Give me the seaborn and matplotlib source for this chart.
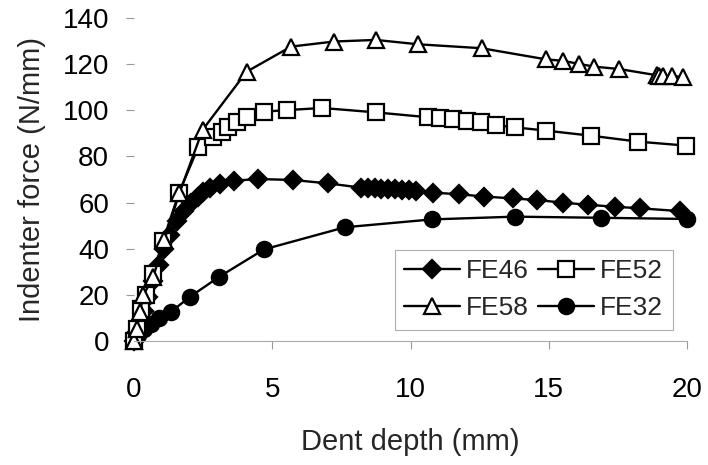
import matplotlib
matplotlib.use("Agg")
import matplotlib.pyplot as plt
import seaborn as sns
import pandas as pd

# ---- data ----
fe46_x = [0, 0.1, 0.2, 0.35, 0.5, 0.7, 0.9, 1.1, 1.3, 1.54, 1.8, 2.05, 2.3, 2.5, 2.75,
          3.11, 3.6, 4.5, 5.74, 7.03, 8.2, 8.45, 8.7, 8.95, 9.2, 9.45, 9.7, 9.95, 10.2,
          10.83, 11.77, 12.67, 13.7, 14.56, 15.5, 16.43, 17.4, 18.3, 19.75]
fe46_y = [0, 4, 8, 13, 19, 26, 33, 40, 46, 52, 56.5, 60, 62.5, 64.5, 66.5,
          68.2, 69.5, 70.2, 69.8, 68.3, 66.5, 66.3, 66.2, 66.0, 65.9, 65.7, 65.6, 65.4, 65.2,
          64.3, 63.6, 62.6, 61.8, 61.1, 60.0, 59.0, 58.2, 57.5, 56.3]

fe52_x = [0, 0.1, 0.25, 0.45, 0.68, 1.05, 1.62, 2.33, 2.87, 3.17, 3.41, 3.71, 4.07, 4.70,
          5.54, 6.81, 8.74, 10.62, 11.07, 11.53, 12.03, 12.54, 13.08, 13.78, 14.89, 16.52,
          18.24, 19.96]
fe52_y = [0, 5, 14, 20, 29, 43.5, 64, 84.2, 88.6, 90.7, 92.9, 95.1, 97.2, 99.4,
          100.1, 101.0, 99.1, 97.0, 96.5, 96.2, 95.5, 94.8, 93.6, 92.6, 91.2, 89.0,
          86.4, 84.7]

fe58_x = [0, 0.1, 0.22, 0.34, 0.70, 1.10, 1.64, 2.48, 4.07, 5.68, 7.23, 8.74, 10.28, 12.57,
          14.89, 15.53, 16.10, 16.65, 17.54, 18.9, 19.0, 19.12, 19.45, 19.87]
fe58_y = [0, 5, 12.7, 19.9, 27.9, 43.8, 64.0, 91.5, 116.7, 127.6, 129.8, 130.5, 128.6, 126.9,
          122.1, 121.4, 120.1, 118.9, 117.9, 115.2, 115.0, 114.9, 114.7, 114.6]

fe32_x = [0, 0.15, 0.35, 0.6, 0.9, 1.34, 2.03, 3.09, 4.70, 7.63, 10.77, 13.78, 16.89, 19.99]
fe32_y = [0, 2.5, 5, 7.5, 10, 12.7, 19.2, 27.9, 39.7, 49.3, 52.7, 53.9, 53.4, 52.9]

x_ticks = [0, 5, 10, 15, 20]
y_ticks = [0, 20, 40, 60, 80, 100, 120, 140]

sns.set_style("white")
plt.rcParams["font.family"] = ["Liberation Sans", "DejaVu Sans"]

fig = plt.figure(figsize=(7.08, 4.65), dpi=100)
ax = fig.add_axes([134 / 708, 1 - 341 / 465, (687 - 134) / 708, (341 - 18) / 465])

common = dict(color="black", linewidth=1.7, markeredgecolor="black",
              markeredgewidth=1.6, clip_on=False, estimator=None, sort=False, ax=ax)

series = {
    "FE46": (fe46_x, fe46_y, dict(marker="D", markersize=9, markerfacecolor="black")),
    "FE32": (fe32_x, fe32_y, dict(marker="o", markersize=11, markerfacecolor="black")),
    "FE52": (fe52_x, fe52_y, dict(marker="s", markersize=11, markerfacecolor="white")),
    "FE58": (fe58_x, fe58_y, dict(marker="^", markersize=11, markerfacecolor="white")),
}
handles = {}
for name, (xs, ys, st) in series.items():
    df = pd.DataFrame({"x": xs, "y": ys})
    sns.lineplot(data=df, x="x", y="y", label=name, **common, **st)
    handles[name] = ax.get_lines()[-1]

ax.set_xlim(0, 20)
ax.set_ylim(0, 140)
ax.set_xticks(x_ticks)
ax.set_yticks(y_ticks)
ax.tick_params(axis="both", labelsize=20, colors="#999999", labelcolor="black",
               length=6, width=0.8, direction="out")
ax.tick_params(axis="y", pad=12, left=True)
ax.tick_params(axis="x", pad=20, bottom=True)
for s in ["top", "right", "left"]:
    ax.spines[s].set_visible(False)
ax.spines["bottom"].set_color("#aaaaaa")
ax.spines["bottom"].set_linewidth(0.8)

ax.set_xlabel("Dent depth (mm)", fontsize=21, labelpad=18)
ax.set_ylabel("Indenter force (N/mm)", fontsize=21, labelpad=12)

if ax.get_legend():
    ax.get_legend().remove()
order = ["FE46", "FE58", "FE52", "FE32"]
leg = ax.legend([handles[n] for n in order], order, ncol=2, loc="upper left",
                bbox_to_anchor=(395 / 708, 1 - 250 / 465), bbox_transform=fig.transFigure,
                fontsize=19, frameon=True, fancybox=False, handlelength=2.1,
                handletextpad=0.25, columnspacing=0.35, borderpad=0.35, labelspacing=0.5,
                borderaxespad=0)
leg.get_frame().set_edgecolor("#999999")
leg.get_frame().set_linewidth(0.8)

fig.savefig("out.png", dpi=100)
